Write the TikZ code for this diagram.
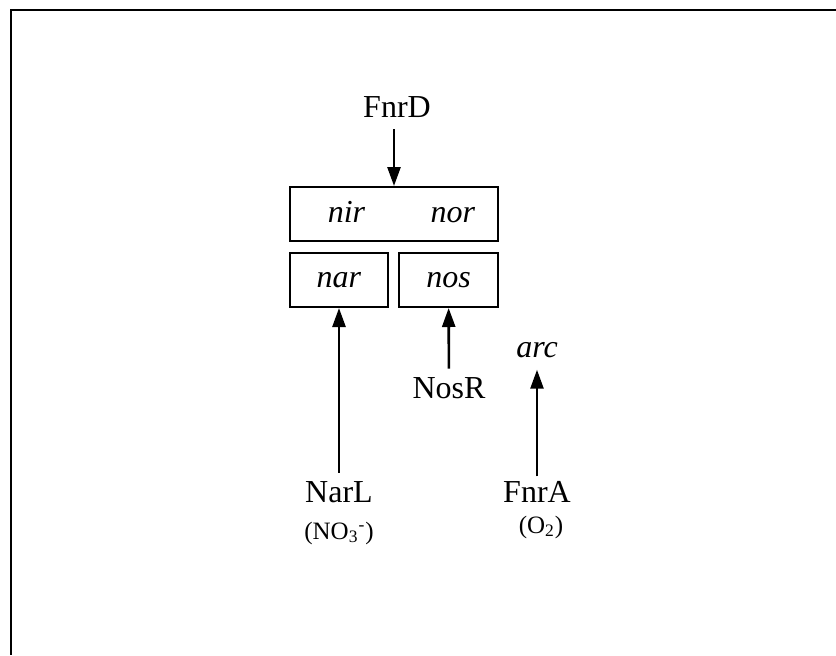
\documentclass[tikz,border=0pt]{standalone}
\usepackage{fontspec}
\setmainfont{Liberation Serif}
\usepackage{tikz}
\usetikzlibrary{positioning,arrows.meta}

\begin{document}
\begin{tikzpicture}[
    x=0.5pt, y=-0.5pt,
    font=\fontsize{16}{19}\selectfont,
    txt/.style={anchor=base, inner sep=1pt},
    gene/.style={draw, line width=1pt, inner sep=0pt, minimum height=27pt},
    cond/.style={anchor=base, font=\fontsize{12.5}{14}\selectfont, inner sep=1pt},
    arrow/.style={-{Triangle[length=9.5pt,width=6.5pt]}, line width=1.3pt}
]
\useasboundingbox (0,0) rectangle (836,655);
\draw[line width=1.1pt] (836,10) -| (11,655);

% operon boxes
\node[gene, minimum width=104pt] (operon) at (394,214) {};
\node[txt] (nir) at (346.5,222) {\textit{nir}};
\node[txt] (nor) at (453,222) {\textit{nor}};
\node[gene, minimum width=49pt] (nar) at (339,280) {\textit{nar}};
\node[gene, minimum width=49.5pt] (nos) at (448.5,280) {\textit{nos}};
\node[txt] (arc) at (537,357) {\textit{arc}};

% regulators
\node[txt] (fnrd) at (397,117) {FnrD};
\node[txt] (nosr) at (449,398) {NosR};
\node[txt] (narl) at (339,502) {NarL};
\node[cond] (no3) at (339,539) {(NO\textsubscript{3}\textsuperscript{-})};
\node[txt] (fnra) at (537,502) {FnrA};
\node[cond] (o2) at (541,533) {(O\textsubscript{2})};

\draw[arrow, shorten <=5pt] (operon.north |- fnrd.south) -- (operon.north);
\draw[arrow, shorten <=3pt] (narl) -- (nar);
\draw[arrow, shorten <=3pt] (nosr) -- (nos);
\draw[arrow, shorten <=1pt, shorten >=5pt] (fnra) -- (arc);
\end{tikzpicture}
\end{document}
